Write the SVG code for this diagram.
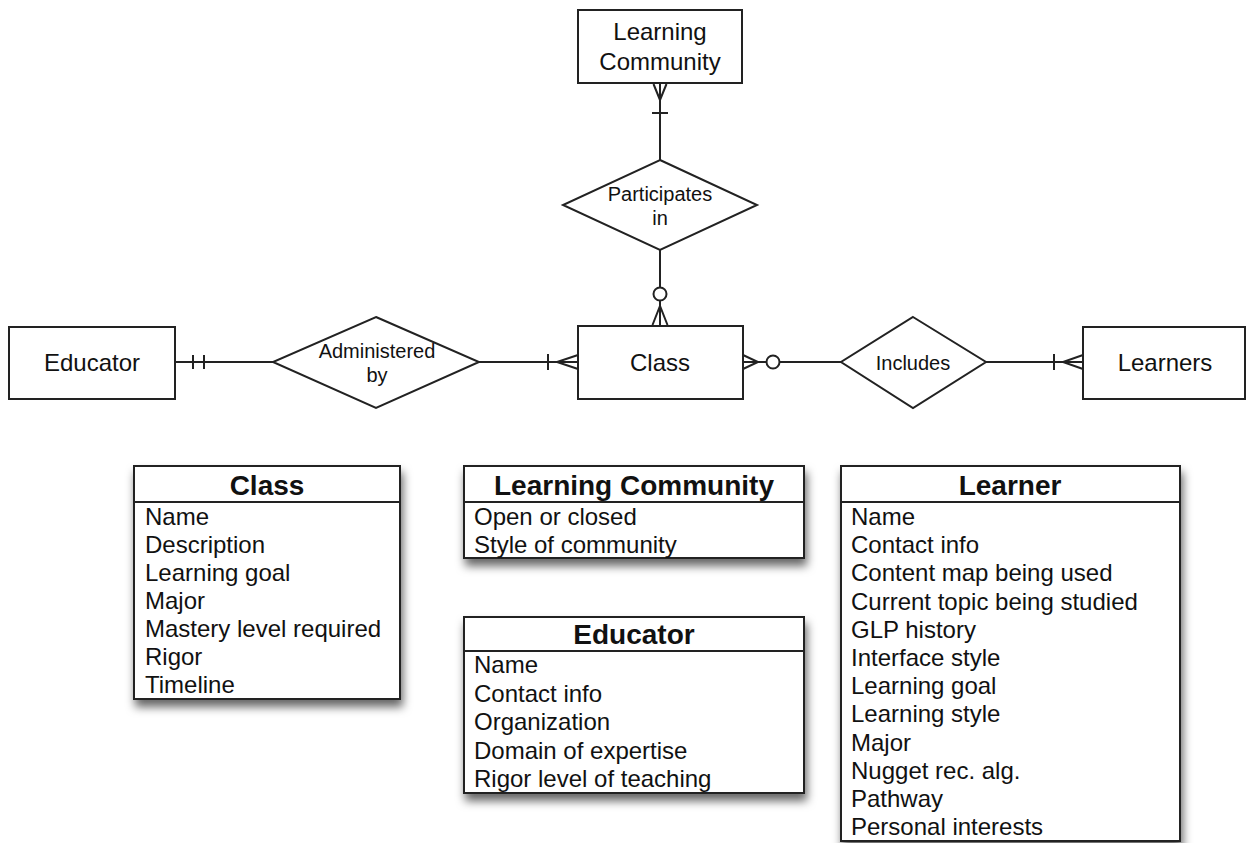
<svg xmlns="http://www.w3.org/2000/svg" width="1247" height="843" viewBox="0 0 1247 843">
  <style>
    .ent { fill: #fff; stroke: #222; stroke-width: 2; }
    .rel { fill: #fff; stroke: #222; stroke-width: 2; }
    .ln { fill: none; stroke: #222; stroke-width: 2; }
    .lbl { font-family: "Liberation Sans", Arial, sans-serif; font-size: 24px; fill: #111; text-anchor: middle; }
    .rlbl { font-family: "Liberation Sans", Arial, sans-serif; font-size: 20px; fill: #111; text-anchor: middle; }
    .tbl { fill: #fff; stroke: #222; stroke-width: 2; }
    .hdr { font-family: "Liberation Sans", Arial, sans-serif; font-size: 28px; font-weight: bold; fill: #111; text-anchor: middle; }
    .row { font-family: "Liberation Sans", Arial, sans-serif; font-size: 24px; fill: #111; }
  </style>
  <defs>
    <filter id="shadow" x="-10%" y="-10%" width="125%" height="135%">
      <feDropShadow dx="2" dy="7" stdDeviation="5" flood-color="#000" flood-opacity="0.6"/>
    </filter>
  </defs>
  <rect width="1247" height="843" fill="#fff"/>

  <!-- relationship lines with cardinality marks -->
  <g id="connectors">
    <!-- Learning Community / Participates in -->
    <path class="ln" d="M660 83 V160"/>
    <path class="ln" d="M653.5 84 L660 100 L666.5 84"/>
    <path class="ln" d="M652 113 H668"/>
    <!-- Participates in / Class -->
    <path class="ln" d="M660 250 V287.5"/>
    <circle class="ln" cx="660" cy="294" r="6.5"/>
    <path class="ln" d="M660 300.5 V325"/>
    <path class="ln" d="M652.5 325 L660 306 L667.5 325"/>
    <!-- Educator / Administered by -->
    <path class="ln" d="M175 362 H273"/>
    <path class="ln" d="M193 355 V369 M204 355 V369"/>
    <!-- Administered by / Class -->
    <path class="ln" d="M479 362 H578"/>
    <path class="ln" d="M548 354 V370"/>
    <path class="ln" d="M578 355 L557 362 L578 369"/>
    <!-- Class / Includes -->
    <path class="ln" d="M743 362 H766.5"/>
    <path class="ln" d="M743 355 L758 362 L743 369"/>
    <circle class="ln" cx="773" cy="362" r="6.5"/>
    <path class="ln" d="M779.5 362 H841"/>
    <!-- Includes / Learners -->
    <path class="ln" d="M986 362 H1083"/>
    <path class="ln" d="M1054 354 V370"/>
    <path class="ln" d="M1083 355 L1063 362 L1083 369"/>
  </g>

  <!-- entities -->
  <g id="learning-community">
    <rect class="ent" x="578" y="10" width="164" height="73"/>
    <text class="lbl" x="660" y="40">Learning</text>
    <text class="lbl" x="660" y="70">Community</text>
  </g>
  <g id="educator">
    <rect class="ent" x="9" y="327" width="166" height="72"/>
    <text class="lbl" x="92" y="371">Educator</text>
  </g>
  <g id="class">
    <rect class="ent" x="578" y="326" width="165" height="73"/>
    <text class="lbl" x="660" y="371">Class</text>
  </g>
  <g id="learners">
    <rect class="ent" x="1083" y="327" width="162" height="72"/>
    <text class="lbl" x="1165" y="371">Learners</text>
  </g>

  <!-- relationships -->
  <g id="participates-in">
    <polygon class="rel" points="660,160 757,205 660,250 563,205"/>
    <text class="rlbl" x="660" y="201">Participates</text>
    <text class="rlbl" x="660" y="225">in</text>
  </g>
  <g id="administered-by">
    <polygon class="rel" points="376,317 479,362 376,408 273,362"/>
    <text class="rlbl" x="377" y="358">Administered</text>
    <text class="rlbl" x="377" y="382">by</text>
  </g>
  <g id="includes">
    <polygon class="rel" points="913,317 986,362 913,408 841,362"/>
    <text class="rlbl" x="913" y="370">Includes</text>
  </g>

  <!-- attribute tables -->
  <g id="class-table">
    <rect class="tbl" x="134" y="466" width="266" height="233" filter="url(#shadow)"/>
    <path class="ln" d="M134 502 H400"/>
    <text class="hdr" x="267" y="495">Class</text>
    <text class="row" x="145" y="525">Name</text>
    <text class="row" x="145" y="553">Description</text>
    <text class="row" x="145" y="581">Learning goal</text>
    <text class="row" x="145" y="609">Major</text>
    <text class="row" x="145" y="637">Mastery level required</text>
    <text class="row" x="145" y="665">Rigor</text>
    <text class="row" x="145" y="693">Timeline</text>
  </g>
  <g id="learning-community-table">
    <rect class="tbl" x="464" y="466" width="340" height="92" filter="url(#shadow)"/>
    <path class="ln" d="M464 502 H804"/>
    <text class="hdr" x="634" y="495">Learning Community</text>
    <text class="row" x="474" y="525">Open or closed</text>
    <text class="row" x="474" y="553">Style of community</text>
  </g>
  <g id="educator-table">
    <rect class="tbl" x="464" y="617" width="340" height="176" filter="url(#shadow)"/>
    <path class="ln" d="M464 651 H804"/>
    <text class="hdr" x="634" y="644">Educator</text>
    <text class="row" x="474" y="673">Name</text>
    <text class="row" x="474" y="701.5">Contact info</text>
    <text class="row" x="474" y="730">Organization</text>
    <text class="row" x="474" y="758.5">Domain of expertise</text>
    <text class="row" x="474" y="787">Rigor level of teaching</text>
  </g>
  <g id="learner-table">
    <rect class="tbl" x="841" y="466" width="339" height="375" filter="url(#shadow)"/>
    <path class="ln" d="M841 502 H1180"/>
    <text class="hdr" x="1010" y="495">Learner</text>
    <text class="row" x="851" y="525">Name</text>
    <text class="row" x="851" y="553.2">Contact info</text>
    <text class="row" x="851" y="581.4">Content map being used</text>
    <text class="row" x="851" y="609.6">Current topic being studied</text>
    <text class="row" x="851" y="637.8">GLP history</text>
    <text class="row" x="851" y="666">Interface style</text>
    <text class="row" x="851" y="694.2">Learning goal</text>
    <text class="row" x="851" y="722.4">Learning style</text>
    <text class="row" x="851" y="750.6">Major</text>
    <text class="row" x="851" y="778.8">Nugget rec. alg.</text>
    <text class="row" x="851" y="807">Pathway</text>
    <text class="row" x="851" y="835.2">Personal interests</text>
  </g>
</svg>
